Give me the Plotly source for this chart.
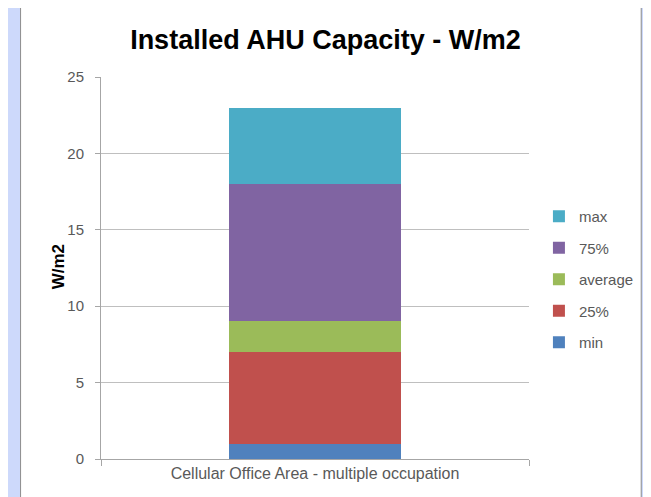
import plotly.graph_objects as go

# 数据
category = ["Cellular Office Area - multiple occupation"]
series_names = ["min", "25%", "average", "75%", "max"]
series_values = [[1], [6], [2], [9], [5]]
series_colors = ["#4F81BD", "#C0504D", "#9BBB59", "#8064A2", "#4BACC6"]
y_ticks = [0, 5, 10, 15, 20, 25]

font_family = "Liberation Sans, Arial, sans-serif"

fig = go.Figure()
for i in range(len(series_names)):
    fig.add_trace(go.Bar(
        x=category,
        y=series_values[i],
        name=series_names[i],
        legendgroup=series_names[i],
        legendrank=len(series_names) - i,
        marker=dict(color=series_colors[i], line=dict(width=0)),
        width=0.4,
    ))

# 页面 body 有 8px 边距，所有像素位置按截图坐标减 8
OFF = 8
W, H = 651 - OFF, 497 - OFF
L, T = 101 - OFF, 77 - OFF
pw = 532 - 101
ph = 459 - 77
R = W - L - pw
B = H - T - ph

def px_x(p):
    return (p - OFF - L) / pw

def px_y(p):
    return (T + ph - (p - OFF)) / ph

fig.update_layout(
    width=W,
    height=H,
    margin=dict(l=L, r=R, t=T, b=B, pad=0),
    paper_bgcolor="#CDD9FB",
    plot_bgcolor="white",
    barmode="stack",
    font=dict(family=font_family, color="#595959", size=14),
    title=dict(
        text="<b>Installed AHU Capacity - W/m2</b>",
        x=px_x(327), xref="paper", xanchor="center",
        y=1 - (40 - OFF) / H, yanchor="middle",
        font=dict(size=27, color="black", family=font_family),
    ),
    showlegend=True,
    legend=dict(
        traceorder="grouped",
        tracegroupgap=9,
        x=px_x(542), y=px_y(200),
        xanchor="left", yanchor="top",
        bgcolor="rgba(0,0,0,0)",
        font=dict(size=15, color="#595959"),
    ),
    xaxis=dict(
        type="category",
        showline=True, linecolor="#A6A6A6", linewidth=1,
        ticks="outside", tickson="boundaries", ticklen=6, tickcolor="#A6A6A6",
        tickfont=dict(size=16, color="#595959"),
        showgrid=False,
    ),
    yaxis=dict(
        range=[0, 25],
        tickvals=y_ticks,
        showline=True, linecolor="#A6A6A6", linewidth=1,
        ticks="outside", ticklen=5, tickcolor="#A6A6A6",
        showgrid=True, gridcolor="#BFBFBF", gridwidth=1,
        zeroline=False,
        tickfont=dict(size=15, color="#595959"),
        ticklabelstandoff=8,
    ),
    annotations=[dict(
        text="<b>W/m2</b>", textangle=-90,
        xref="paper", yref="paper",
        x=px_x(58), y=px_y(267),
        xanchor="center", yanchor="middle",
        showarrow=False,
        font=dict(size=17, color="black"),
    )],
    shapes=[dict(
        type="rect", xref="paper", yref="paper", layer="below",
        x0=px_x(20), x1=px_x(645), y0=px_y(520), y1=px_y(3),
        fillcolor="white", line=dict(color="#8C8C8C", width=1),
    )],
)

fig.write_html("out.html")
